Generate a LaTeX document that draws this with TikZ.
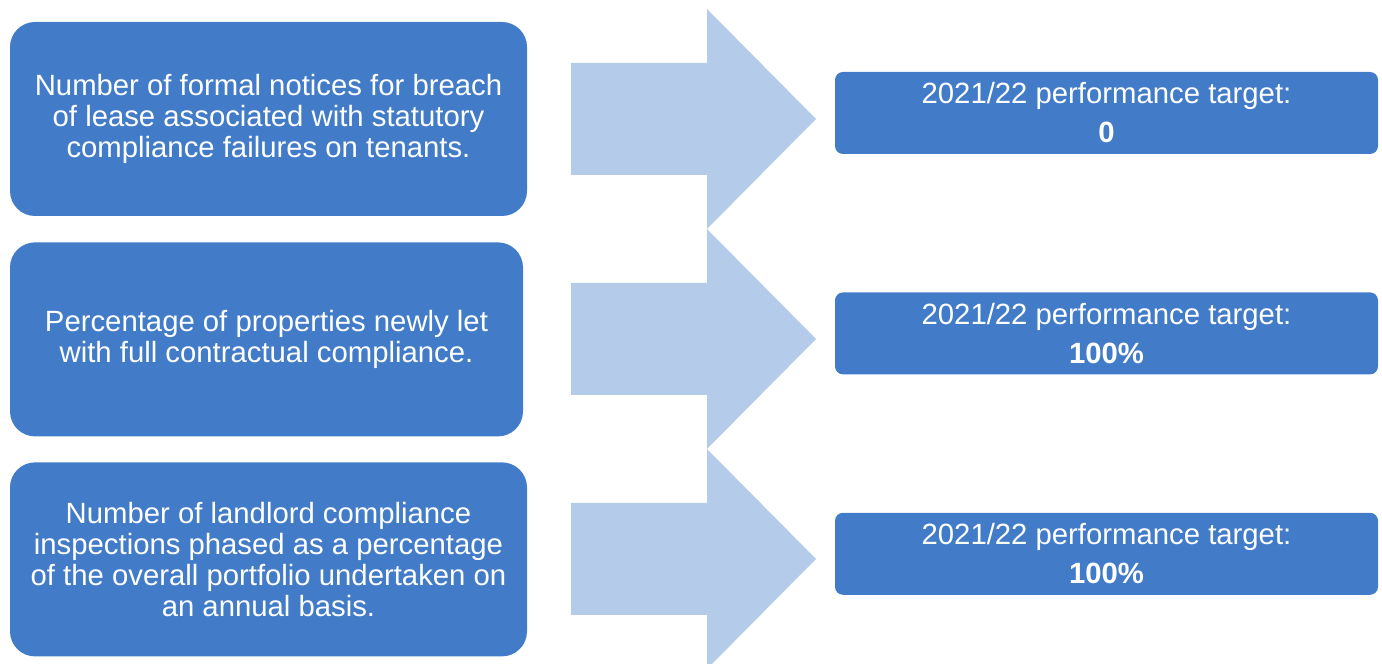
\documentclass[tikz,border=0pt]{standalone}
\usepackage{fontspec}
\setmainfont{Liberation Sans}
\usepackage{tikz}
\usetikzlibrary{positioning}
\definecolor{boxblue}{RGB}{66,124,201}
\definecolor{arrowblue}{RGB}{180,204,234}

\begin{document}
\begin{tikzpicture}[x=1pt, y=1pt,
	measure/.style={fill=boxblue, text=white, rounded corners=25pt, minimum width=517pt, minimum height=194pt, align=center, font=\fontsize{29.3pt}{31pt}\selectfont},
	target/.style={fill=boxblue, text=white, rounded corners=8pt, minimum width=543pt, minimum height=82pt, align=center, font=\fontsize{29.3pt}{31pt}\selectfont}]
				\clip (0,0) rectangle (1382,664);
				\foreach \y in {545,325,105}
					\fill[arrowblue] (571,\y+56) -- (707,\y+56) -- (707,\y+110) -- (816,\y) -- (707,\y-110) -- (707,\y-56) -- (571,\y-56) -- cycle;
				\node[measure] (M1) at (268.5,545) {Number of formal notices for breach\\of lease associated with statutory\\compliance failures on tenants.};
				\node[measure, minimum width=513pt, xshift=-2pt] (M2) [below=26pt of M1] {Percentage of properties newly let\\with full contractual compliance.};
				\node[measure] (M3) [below=26pt of M1, yshift=-220pt] {Number of landlord compliance\\inspections phased as a percentage\\of the overall portfolio undertaken on\\an annual basis.};
				\node[target] (T1) at (1106.5,551) {2021/22 performance target:\\[8pt]\textbf{0}};
				\node[target] (T2) [below=138pt of T1] {2021/22 performance target:\\[8pt]\textbf{100\%}};
				\node[target] (T3) [below=138pt of T2] {2021/22 performance target:\\[8pt]\textbf{100\%}};
			\end{tikzpicture}
\end{document}
